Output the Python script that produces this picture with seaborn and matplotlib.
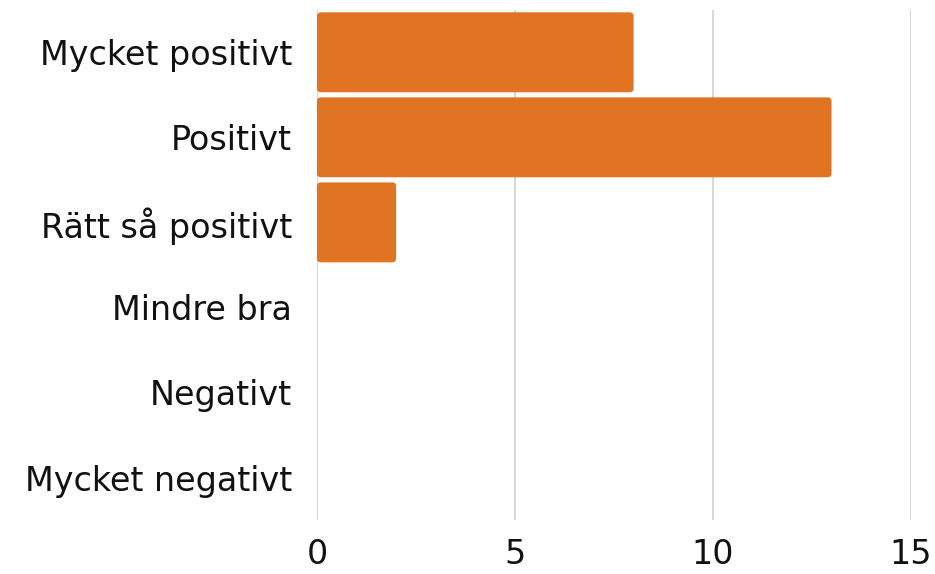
import matplotlib
matplotlib.use("Agg")
import matplotlib.pyplot as plt
from matplotlib.patches import FancyBboxPatch
import seaborn as sns
import pandas as pd

categories = ["Mycket positivt", "Positivt", "Rätt så positivt", "Mindre bra", "Negativt", "Mycket negativt"]
values = [8, 13, 2, 0, 0, 0]
xticks = [0, 5, 10, 15]

sns.set_theme(style="white")
plt.rcParams['font.family'] = ['DejaVu Sans']

df = pd.DataFrame({"cat": categories, "val": values})
fig = plt.figure(figsize=(9.35, 5.74), dpi=100)
ax = fig.add_axes([0.339, 0.094, 0.635, 0.889])
sns.barplot(data=df, x="val", y="cat", color="#E07422", saturation=1, width=0.94,
            ax=ax, zorder=3, linewidth=0)
ax.set_xlim(0, 15)
ax.set_xticks(xticks)

# round bar corners
for p in list(ax.patches):
    x0, y0 = p.get_x(), p.get_y()
    w, h = p.get_width(), p.get_height()
    if w <= 0:
        p.remove()
        continue
    fb = FancyBboxPatch((x0, y0), w, h, boxstyle="round,pad=0,rounding_size=0.1",
                        mutation_aspect=0.47, facecolor=p.get_facecolor(),
                        edgecolor="none", zorder=3)
    p.remove()
    ax.add_patch(fb)

ax.grid(axis="x", color="#CFCFCF", linewidth=1.2, zorder=0)
for s in ax.spines.values():
    s.set_visible(False)
ax.set_xlabel("")
ax.set_ylabel("")
ax.tick_params(axis="y", labelsize=24, pad=18, length=0, labelcolor="#111111")
ax.tick_params(axis="x", labelsize=24, pad=13, length=0, labelcolor="#111111")
fig.savefig("out.png", dpi=100)
